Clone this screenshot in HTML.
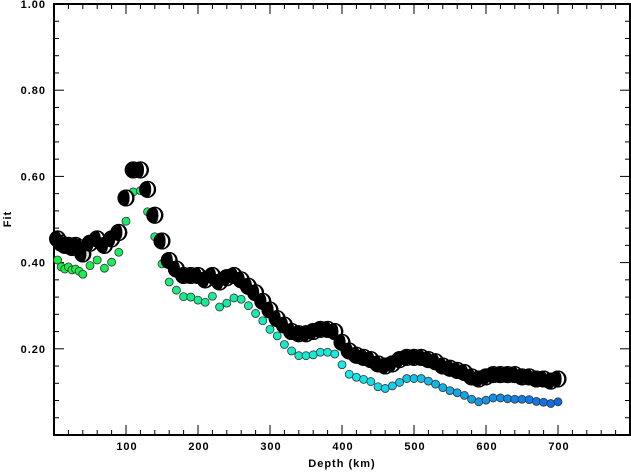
<!DOCTYPE html>
<html><head><meta charset="utf-8"><style>
body{margin:0;background:#fff}
svg text{font-family:"Liberation Sans",sans-serif;font-weight:bold;font-size:11px;letter-spacing:1px}
</style></head><body>
<svg id="chart" width="631" height="471" xmlns="http://www.w3.org/2000/svg">
<g id="axes"></g>
<g id="dots"></g>
<g id="balls"></g>
<text x="342" y="467" text-anchor="middle">Depth (km)</text>
<text transform="translate(11,219) rotate(-90)" text-anchor="middle">Fit</text>
</svg>
<script>
const depths=[5,10,15,20,25,30,35,40,50,60,70,80,90,100,110,120,130,140,150,160,170,180,190,200,210,220,230,240,250,260,270,280,290,300,310,320,330,340,350,360,370,380,390,400,410,420,430,440,450,460,470,480,490,500,510,520,530,540,550,560,570,580,590,600,610,620,630,640,650,660,670,680,690,700];
const dotFit=[.406,.39,.385,.39,.383,.385,.38,.373,.393,.406,.387,.401,.424,.496,.564,.567,.518,.46,.397,.355,.336,.321,.32,.313,.308,.322,.297,.306,.318,.315,.30,.282,.265,.245,.23,.21,.195,.184,.184,.186,.192,.192,.188,.163,.141,.134,.129,.124,.112,.108,.114,.122,.131,.131,.131,.125,.118,.110,.103,.098,.092,.083,.077,.081,.086,.086,.084,.083,.083,.082,.078,.076,.073,.077];
const ballFit=[.455,.445,.44,.44,.435,.44,.435,.42,.445,.455,.44,.455,.47,.55,.615,.615,.57,.51,.45,.405,.385,.37,.37,.37,.36,.37,.355,.365,.37,.36,.345,.33,.31,.29,.27,.255,.24,.235,.235,.24,.245,.245,.24,.215,.195,.185,.18,.175,.165,.16,.165,.175,.18,.18,.18,.175,.17,.16,.155,.15,.145,.135,.13,.135,.14,.14,.14,.14,.135,.135,.13,.13,.125,.13];
const yTickLabels=["0.20","0.40","0.60","0.80","1.00"];
const xTickLabels=["100","200","300","400","500","600","700"];
const X0=54,X1=630,Y0=435,Y1=4;
const xs=d=>X0+(d/800)*(X1-X0);
const ys=v=>Y0-v*(Y0-Y1);
const NS="http://www.w3.org/2000/svg";
function mk(tag,attrs,parent){const e=document.createElementNS(NS,tag);for(const k in attrs)e.setAttribute(k,attrs[k]);parent.appendChild(e);return e;}
const ax=document.getElementById('axes');
const fr=mk('rect',{x:X0,y:Y1,width:X1-X0,height:Y0-Y1,fill:'none',stroke:'#000','stroke-width':2},ax);


for(let d=20;d<800;d+=20){const maj=d%100==0;const L=maj?10:5;
mk('line',{x1:xs(d),x2:xs(d),y1:Y0,y2:Y0-L,stroke:'#000','stroke-width':1},ax);
mk('line',{x1:xs(d),x2:xs(d),y1:Y1,y2:Y1+L,stroke:'#000','stroke-width':1},ax);}
for(let i=1;i<25;i++){const v=i*0.04;const maj=i%5==0;const L=maj?10:5;
mk('line',{x1:X0,x2:X0+L,y1:ys(v),y2:ys(v),stroke:'#000','stroke-width':1},ax);
mk('line',{x1:X1,x2:X1-L,y1:ys(v),y2:ys(v),stroke:'#000','stroke-width':1},ax);}
yTickLabels.forEach(t=>{const e=mk('text',{x:46,y:ys(parseFloat(t))+4,'text-anchor':'end'},ax);e.textContent=t;

});
xTickLabels.forEach(t=>{const e=mk('text',{x:xs(parseFloat(t))+1,y:450,'text-anchor':'middle'},ax);e.textContent=t;

});
const dg=document.getElementById('dots');
depths.forEach((d,i)=>{const t=d/700;const h=130+t*85;
const c=mk('circle',{cx:xs(d),cy:ys(dotFit[i]),r:4,fill:`hsl(${h},85%,${52-t*4}%)`,stroke:'#333','stroke-width':0.8},dg);

});
const bg=document.getElementById('balls');
depths.forEach((d,i)=>{const cx=xs(d),cy=ys(ballFit[i]);
const g=mk('g',{},bg);


mk('circle',{cx:cx,cy:cy,r:8,fill:'#000',stroke:'#000','stroke-width':1},g);
const w=d<50?'#ddd':'#fff';
mk('path',{d:`M${cx+1},${cy-7.5} A8 8 0 0 1 ${cx+1},${cy+7.5} A4 8 0 0 0 ${cx+1},${cy-7.5}Z`,fill:w},g);
mk('circle',{cx:cx,cy:cy,r:8,fill:'none',stroke:'#000','stroke-width':1},g);});
</script>
</body></html>
